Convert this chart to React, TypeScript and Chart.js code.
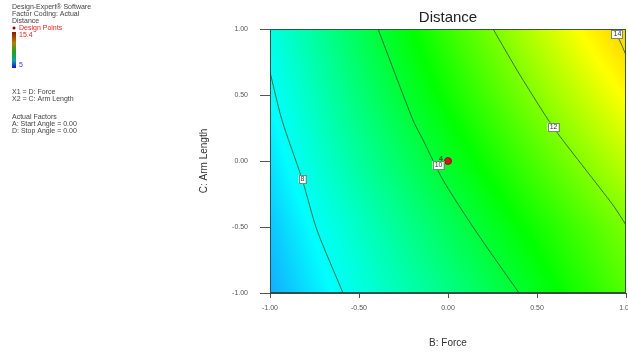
import React, { useEffect, useRef } from "react";
import { Chart, registerables } from "chart.js";
Chart.register(...registerables);

// ---- data ----
const tickValues = [-1, -0.5, 0, 0.5, 1];
const gridX = [-1, -0.5, 0, 0.5, 1];
const gridY = [1, 0.5, 0, -0.5, -1];
const rowTop = [8.2, 9.7, 11.2, 12.7, 14.2];
const rowUpper = [7.9, 9.35, 10.75, 12.1, 13.45];
const rowMid = [7.65, 8.95, 10.2, 11.45, 12.7];
const rowLower = [7.4, 8.5, 9.65, 10.8, 11.95];
const rowBottom = [7.2, 8.2, 9.2, 10.3, 11.5];
const surface = [rowTop, rowUpper, rowMid, rowLower, rowBottom];

const contour8 = [
  { x: -1, y: 0.674 },
  { x: -0.933, y: 0.311 },
  { x: -0.82, y: -0.136 },
  { x: -0.736, y: -0.523 },
  { x: -0.59, y: -1 },
];
const contour10 = [
  { x: -0.393, y: 1 },
  { x: -0.197, y: 0.311 },
  { x: -0.14, y: 0.159 },
  { x: -0.028, y: -0.144 },
  { x: 0.152, y: -0.523 },
  { x: 0.399, y: -1 },
];
const contour12 = [
  { x: 0.253, y: 1 },
  { x: 0.404, y: 0.652 },
  { x: 0.59, y: 0.258 },
  { x: 0.77, y: -0.06 },
  { x: 0.93, y: -0.34 },
  { x: 1, y: -0.485 },
];
const contour14 = [
  { x: 0.921, y: 1 },
  { x: 0.955, y: 0.939 },
  { x: 1, y: 0.803 },
];
const contourLabels = ["8", "10", "12", "14"];
const labelX = [-0.82, -0.056, 0.59, 0.949];
const labelY = [-0.136, -0.03, 0.258, 0.962];
const designX = [0];
const designY = [0];
const designCount = ["4"];

const legendLines = [
  "Design-Expert® Software",
  "Factor Coding: Actual",
  "Distance",
];
const factorLines = ["X1 = D: Force", "X2 = C: Arm Length"];
const actualLines = ["Actual Factors", "A: Start Angle = 0.00", "D: Stop Angle = 0.00"];
const rangeHigh = "15.4";
const rangeLow = "5";

// colour map stops (value -> rgb)
const stopValues = [6.8, 7.9, 10.6, 13.4, 15.4];
const stopColors = [
  [30, 125, 255],
  [0, 255, 255],
  [0, 255, 0],
  [255, 255, 0],
  [255, 130, 0],
];

function colorFor(v: number) {
  if (v <= stopValues[0]) return stopColors[0];
  for (let i = 0; i < stopValues.length - 1; i++) {
    if (v <= stopValues[i + 1]) {
      const t = (v - stopValues[i]) / (stopValues[i + 1] - stopValues[i]);
      const a = stopColors[i], b = stopColors[i + 1];
      return [a[0] + (b[0] - a[0]) * t, a[1] + (b[1] - a[1]) * t, a[2] + (b[2] - a[2]) * t];
    }
  }
  return stopColors[stopColors.length - 1];
}

function surfaceAt(x: number, y: number) {
  let i = 0;
  while (i < gridX.length - 2 && x > gridX[i + 1]) i++;
  let j = 0;
  while (j < gridY.length - 2 && y < gridY[j + 1]) j++;
  const tx = Math.min(1, Math.max(0, (x - gridX[i]) / (gridX[i + 1] - gridX[i])));
  const ty = Math.min(1, Math.max(0, (y - gridY[j]) / (gridY[j + 1] - gridY[j])));
  const a = surface[j][i], b = surface[j][i + 1];
  const c = surface[j + 1][i], d = surface[j + 1][i + 1];
  return a * (1 - tx) * (1 - ty) + b * tx * (1 - ty) + c * (1 - tx) * ty + d * tx * ty;
}

const FONT = "'Liberation Sans', Arial, sans-serif";

const heatmapPlugin = {
  id: "heatmap",
  beforeDatasetsDraw(chart: any) {
    const { ctx, chartArea } = chart;
    const xs = chart.scales.x, ys = chart.scales.y;
    const w = Math.round(chartArea.right - chartArea.left);
    const h = Math.round(chartArea.bottom - chartArea.top);
    const off = document.createElement("canvas");
    off.width = w;
    off.height = h;
    const octx = off.getContext("2d")!;
    const img = octx.createImageData(w, h);
    for (let py = 0; py < h; py++) {
      const yv = ys.getValueForPixel(chartArea.top + py + 0.5);
      for (let px = 0; px < w; px++) {
        const xv = xs.getValueForPixel(chartArea.left + px + 0.5);
        const c = colorFor(surfaceAt(xv, yv));
        const k = (py * w + px) * 4;
        img.data[k] = c[0];
        img.data[k + 1] = c[1];
        img.data[k + 2] = c[2];
        img.data[k + 3] = 255;
      }
    }
    octx.putImageData(img, 0, 0);
    ctx.save();
    ctx.drawImage(off, chartArea.left, chartArea.top, w, h);
    ctx.restore();
  },
  afterDatasetsDraw(chart: any) {
    const { ctx, chartArea } = chart;
    const xs = chart.scales.x, ys = chart.scales.y;
    ctx.save();
    // frame
    ctx.strokeStyle = "rgba(40,70,60,0.9)";
    ctx.lineWidth = 1;
    ctx.strokeRect(chartArea.left + 0.5, chartArea.top + 0.5, chartArea.right - chartArea.left - 1, chartArea.bottom - chartArea.top - 1);
    // contour labels
    ctx.font = `7px ${FONT}`;
    ctx.textAlign = "center";
    ctx.textBaseline = "middle";
    contourLabels.forEach((t, i) => {
      const px = xs.getPixelForValue(labelX[i]);
      const py = ys.getPixelForValue(labelY[i]);
      const bw = t.length > 1 ? 11 : 7;
      const bh = 8;
      ctx.fillStyle = "#ffffff";
      ctx.fillRect(px - bw / 2, py - bh / 2, bw, bh);
      ctx.strokeStyle = "#7a8a7a";
      ctx.strokeRect(Math.round(px - bw / 2) + 0.5, Math.round(py - bh / 2) + 0.5, bw, bh);
      ctx.fillStyle = "#333";
      ctx.fillText(t, px + 0.5, py + 0.5);
    });
    // design point count
    ctx.fillStyle = "#1f5a1f";
    ctx.font = `bold 7px ${FONT}`;
    designCount.forEach((t, i) => {
      ctx.fillText(t, xs.getPixelForValue(designX[i]) - 7, ys.getPixelForValue(designY[i]) - 2);
    });
    ctx.restore();
  },
  afterDraw(chart: any) {
    const { ctx, chartArea } = chart;
    ctx.save();
    const cx = (chartArea.left + chartArea.right) / 2;
    ctx.fillStyle = "#222";
    ctx.textAlign = "center";
    ctx.textBaseline = "middle";
    ctx.font = `15px ${FONT}`;
    ctx.fillText("Distance", cx, 18);
    ctx.font = `10px ${FONT}`;
    ctx.fillStyle = "#333";
    ctx.fillText("B: Force", cx, 343);
    ctx.save();
    ctx.translate(204, (chartArea.top + chartArea.bottom) / 2);
    ctx.rotate(-Math.PI / 2);
    ctx.fillText("C: Arm Length", 0, 0);
    ctx.restore();

    // left info block
    ctx.textAlign = "left";
    ctx.font = `7px ${FONT}`;
    ctx.fillStyle = "#444";
    legendLines.forEach((t, i) => ctx.fillText(t, 12, 7 + i * 7));
    ctx.fillStyle = "#8b0000";
    ctx.beginPath();
    ctx.arc(14, 28, 1.5, 0, Math.PI * 2);
    ctx.fill();
    ctx.fillStyle = "#ee2222";
    ctx.fillText("Design Points", 19, 28);
    ctx.fillText(rangeHigh, 19, 35);
    ctx.fillStyle = "#3344dd";
    ctx.fillText(rangeLow, 19, 65);
    const g = ctx.createLinearGradient(0, 32, 0, 68);
    g.addColorStop(0, "#8b1a00");
    g.addColorStop(0.3, "#b08000");
    g.addColorStop(0.55, "#20a020");
    g.addColorStop(0.8, "#10a0a0");
    g.addColorStop(1, "#1010d0");
    ctx.fillStyle = g;
    ctx.fillRect(12, 32, 4, 36);
    ctx.fillStyle = "#444";
    factorLines.forEach((t, i) => ctx.fillText(t, 12, 92 + i * 7.5));
    actualLines.forEach((t, i) => ctx.fillText(t, 12, 117 + i * 7));
    ctx.restore();
  },
};

function fixAxis(size: number, vertical: boolean) {
  return (scale: any) => {
    if (vertical) scale.width = size;
    else scale.height = size;
    scale.paddingLeft = 0;
    scale.paddingRight = 0;
    scale.paddingTop = 0;
    scale.paddingBottom = 0;
  };
}

export default function App() {
  const ref = useRef<HTMLCanvasElement | null>(null);
  useEffect(() => {
    document.body.style.margin = "0";
    const canvas = ref.current!;
    const lineStyle = {
      showLine: true,
      pointRadius: 0,
      borderColor: "rgba(35,95,50,0.85)",
      borderWidth: 1,
      tension: 0.25,
      fill: false,
    };
    const chart = new Chart(canvas, {
      type: "scatter",
      data: {
        datasets: [
          { ...lineStyle, data: contour8 },
          { ...lineStyle, data: contour10 },
          { ...lineStyle, data: contour12 },
          { ...lineStyle, data: contour14 },
          {
            data: designX.map((x, i) => ({ x, y: designY[i] })),
            pointRadius: 3.5,
            pointBackgroundColor: "#c81e10",
            pointBorderColor: "#a01010",
            showLine: false,
          },
        ],
      },
      options: {
        animation: false,
        responsive: false,
        devicePixelRatio: 1,
        layout: { autoPadding: false, padding: { left: 230, right: 2, top: 29, bottom: 40 } },
        plugins: { legend: { display: false }, tooltip: { enabled: false }, title: { display: false } },
        scales: {
          x: {
            type: "linear",
            min: -1,
            max: 1,
            afterFit: fixAxis(20, false),
            afterBuildTicks: (s: any) => {
              s.ticks = tickValues.map((v) => ({ value: v }));
            },
            grid: { drawOnChartArea: false, drawTicks: true, tickLength: 5, color: "#555" },
            border: { display: true, color: "#444" },
            ticks: {
              padding: 6,
              color: "#555",
              font: { family: FONT, size: 7 },
              maxRotation: 0,
              autoSkip: false,
              callback: (v: any) => Number(v).toFixed(2),
            },
          },
          y: {
            type: "linear",
            min: -1,
            max: 1,
            afterFit: fixAxis(40, true),
            afterBuildTicks: (s: any) => {
              s.ticks = tickValues.map((v) => ({ value: v }));
            },
            grid: { drawOnChartArea: false, drawTicks: true, tickLength: 10, color: "#555" },
            border: { display: true, color: "#444" },
            ticks: {
              padding: 12,
              color: "#555",
              font: { family: FONT, size: 7 },
              autoSkip: false,
              callback: (v: any) => Number(v).toFixed(2),
            },
          },
        },
      },
      plugins: [heatmapPlugin],
    } as any);
    return () => chart.destroy();
  }, []);
  return (
    <div style={{ width: 628, height: 353, background: "#fff" }}>
      <canvas ref={ref} width={628} height={353} style={{ display: "block", width: 628, height: 353 }} />
    </div>
  );
}
